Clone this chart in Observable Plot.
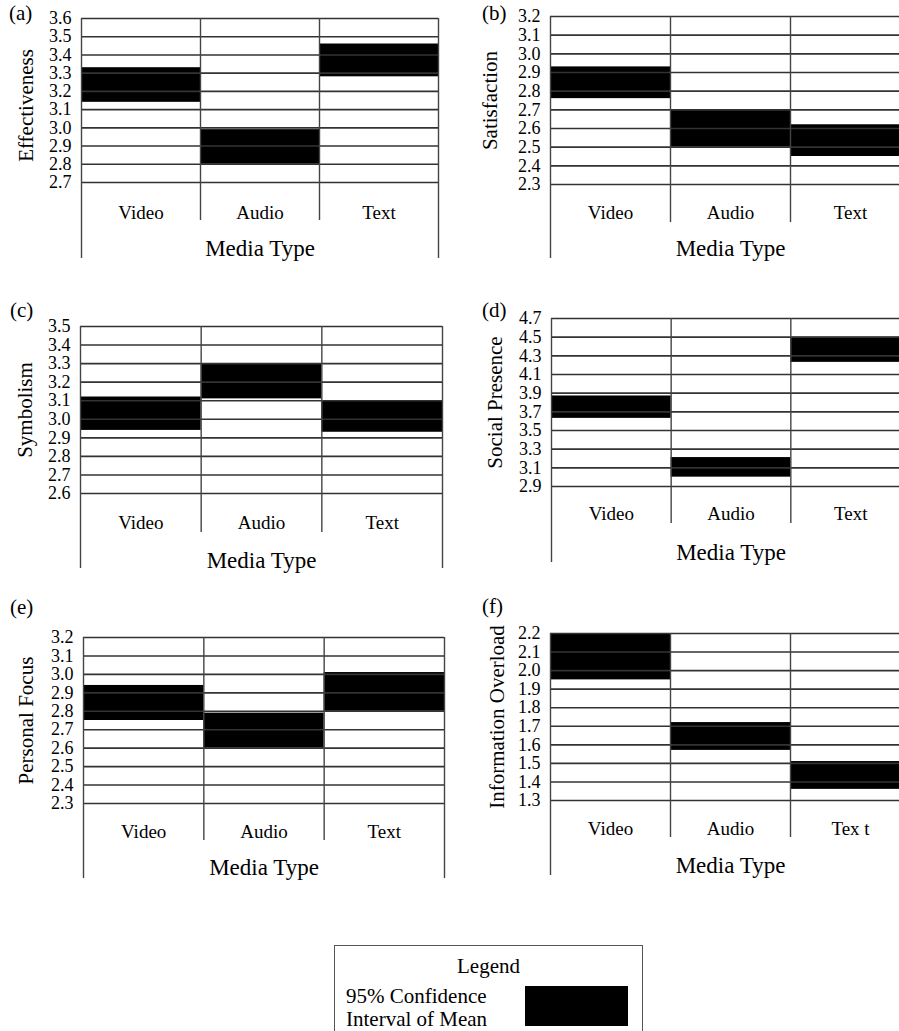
<!DOCTYPE html>
<html>
<head>
<meta charset="utf-8">
<script src="https://cdn.jsdelivr.net/npm/d3@7"></script>
<script src="https://cdn.jsdelivr.net/npm/@observablehq/plot@0.6"></script>
<style>
  html, body { margin: 0; padding: 0; background: #fff; }
  body { width: 899px; height: 1031px; overflow: hidden; position: relative; font-family: "Liberation Serif", "Times New Roman", serif; color: #000; }
  .panel { position: absolute; }
  .panel svg { overflow: visible; max-width: none !important; display: block; }
  .tag { position: absolute; font-size: 21px; line-height: 21px; transform: translateY(-50%); }
  #legend { position: absolute; left: 334px; top: 945px; width: 309px; height: 120px; border: 1.5px solid #555; box-sizing: border-box; }
  #legend .title { position: absolute; left: 0; width: 100%; text-align: center; top: 8px; font-size: 21px; }
  #legend .lab { position: absolute; left: 11px; top: 39px; font-size: 21px; line-height: 23px; }
  #legend .sw { position: absolute; left: 190px; top: 40px; width: 103px; height: 40px; background: #000; }
</style>
</head>
<body>
<script>
// ---------------- data ----------------
const categories = ["Video", "Audio", "Text"];
const categoriesF = ["Video", "Audio", "Tex t"];
const panelTags = ["(a)", "(b)", "(c)", "(d)", "(e)", "(f)"];
const measureNames = ["Effectiveness", "Satisfaction", "Symbolism", "Social Presence", "Personal Focus", "Information Overload"];
const xTitle = "Media Type";

const effectivenessTicks = [2.7, 2.8, 2.9, 3.0, 3.1, 3.2, 3.3, 3.4, 3.5, 3.6];
const effectivenessLow  = [3.14, 2.80, 3.28];
const effectivenessHigh = [3.33, 2.99, 3.46];

const satisfactionTicks = [2.3, 2.4, 2.5, 2.6, 2.7, 2.8, 2.9, 3.0, 3.1, 3.2];
const satisfactionLow  = [2.76, 2.50, 2.45];
const satisfactionHigh = [2.93, 2.70, 2.62];

const symbolismTicks = [2.6, 2.7, 2.8, 2.9, 3.0, 3.1, 3.2, 3.3, 3.4, 3.5];
const symbolismLow  = [2.94, 3.11, 2.93];
const symbolismHigh = [3.12, 3.30, 3.10];

const socialPresenceTicks = [2.9, 3.1, 3.3, 3.5, 3.7, 3.9, 4.1, 4.3, 4.5, 4.7];
const socialPresenceLow  = [3.63, 3.00, 4.23];
const socialPresenceHigh = [3.87, 3.21, 4.50];

const personalFocusTicks = [2.3, 2.4, 2.5, 2.6, 2.7, 2.8, 2.9, 3.0, 3.1, 3.2];
const personalFocusLow  = [2.75, 2.60, 2.80];
const personalFocusHigh = [2.94, 2.79, 3.01];

const informationOverloadTicks = [1.3, 1.4, 1.5, 1.6, 1.7, 1.8, 1.9, 2.0, 2.1, 2.2];
const informationOverloadLow  = [1.95, 1.57, 1.36];
const informationOverloadHigh = [2.20, 1.72, 1.51];

const legendTitle = "Legend";
const legendLabel = ["95% Confidence", "Interval of Mean"];

// ---------------- layout (positions only) ----------------
const series = [
  [effectivenessTicks, effectivenessLow, effectivenessHigh, categories],
  [satisfactionTicks, satisfactionLow, satisfactionHigh, categories],
  [symbolismTicks, symbolismLow, symbolismHigh, categories],
  [socialPresenceTicks, socialPresenceLow, socialPresenceHigh, categories],
  [personalFocusTicks, personalFocusLow, personalFocusHigh, categories],
  [informationOverloadTicks, informationOverloadLow, informationOverloadHigh, categoriesF]
];
const layout = [
  {left: 0,   top: 0,   w: 449, h: 270, mL: 81,  mR: 11, mT: 18, mB: 88, inner: 38, outer: 76, labDy: 30, medDy: 66, yDx: -55, yDy: 5, tagX: 9,   tagY: 13},
  {left: 449, top: 0,   w: 472, h: 270, mL: 101, mR: 11, mT: 16, mB: 86, inner: 38, outer: 74, labDy: 28, medDy: 64, yDx: -60, yDy: 0, tagX: 482, tagY: 13},
  {left: 0,   top: 295, w: 449, h: 290, mL: 80,  mR: 7,  mT: 31, mB: 92, inner: 39, outer: 75, labDy: 29, medDy: 67, yDx: -55, yDy: 0, tagX: 10,  tagY: 310},
  {left: 449, top: 295, w: 472, h: 290, mL: 102, mR: 11, mT: 23, mB: 99, inner: 37, outer: 76, labDy: 27, medDy: 66, yDx: -56, yDy: 0, tagX: 482, tagY: 310},
  {left: 0,   top: 600, w: 449, h: 290, mL: 83,  mR: 5,  mT: 37, mB: 87, inner: 37, outer: 75, labDy: 28, medDy: 64, yDx: -57, yDy: 0, tagX: 10,  tagY: 607},
  {left: 449, top: 600, w: 472, h: 290, mL: 101, mR: 11, mT: 33, mB: 90, inner: 37, outer: 75, labDy: 28, medDy: 65, yDx: -53, yDy: 0, tagX: 482, tagY: 606}
];

const font = "'Liberation Serif', 'Times New Roman', serif";

series.forEach(([ticks, low, high, labels], k) => {
  const L = layout[k];
  const rows = labels.map((c, i) => ({i, cat: c, lo: low[i], hi: high[i]}));
  const y0 = ticks[0], y1 = ticks[ticks.length - 1];
  const chart = Plot.plot({
    width: L.w, height: L.h,
    marginLeft: L.mL, marginRight: L.mR, marginTop: L.mT, marginBottom: L.mB,
    x: {domain: [0, labels.length], axis: null},
    y: {domain: [y0, y1]},
    style: {fontFamily: font, background: "transparent", color: "#000", overflow: "visible", maxWidth: "none"},
    marks: [
      Plot.rectY(rows, {x1: d => d.i, x2: d => d.i + 1, y1: "lo", y2: "hi", fill: "black"}),
      Plot.ruleY(ticks, {stroke: "#333", strokeWidth: 1.6}),
      Plot.ruleX(d3.range(1, labels.length), {stroke: "#444", strokeWidth: 1.4, insetBottom: -L.inner}),
      Plot.ruleX([0, labels.length], {stroke: "#444", strokeWidth: 1.4, insetBottom: -L.outer}),
      Plot.axisY(ticks, {tickSize: 0, tickPadding: 10, fontSize: 18, label: null, tickFormat: d3.format(".1f")}),
      Plot.text(rows, {x: d => d.i + 0.5, y: () => y0, dy: L.labDy, text: "cat", fontSize: 19, fill: "#000", lineAnchor: "middle"}),
      Plot.text([xTitle], {frameAnchor: "bottom", dy: L.medDy, text: d => d, fontSize: 23, fill: "#000", lineAnchor: "middle", textAnchor: "middle"}),
      Plot.text([measureNames[k]], {frameAnchor: "left", dx: L.yDx, dy: L.yDy, rotate: -90, text: d => d, fontSize: 21, fill: "#000", textAnchor: "middle", lineAnchor: "middle"})
    ]
  });
  const div = document.createElement("div");
  div.className = "panel";
  div.style.left = L.left + "px";
  div.style.top = L.top + "px";
  div.style.width = L.w + "px";
  div.style.height = L.h + "px";
  div.appendChild(chart);
  document.body.appendChild(div);

  const tag = document.createElement("div");
  tag.className = "tag";
  tag.style.left = L.tagX + "px";
  tag.style.top = L.tagY + "px";
  tag.textContent = panelTags[k];
  document.body.appendChild(tag);
});

// legend
const lg = document.createElement("div");
lg.id = "legend";
const t = document.createElement("div"); t.className = "title"; t.textContent = legendTitle; lg.appendChild(t);
const lab = document.createElement("div"); lab.className = "lab"; lab.innerHTML = legendLabel.join("<br>"); lg.appendChild(lab);
const sw = document.createElement("div"); sw.className = "sw"; lg.appendChild(sw);
document.body.appendChild(lg);
</script>
</body>
</html>
